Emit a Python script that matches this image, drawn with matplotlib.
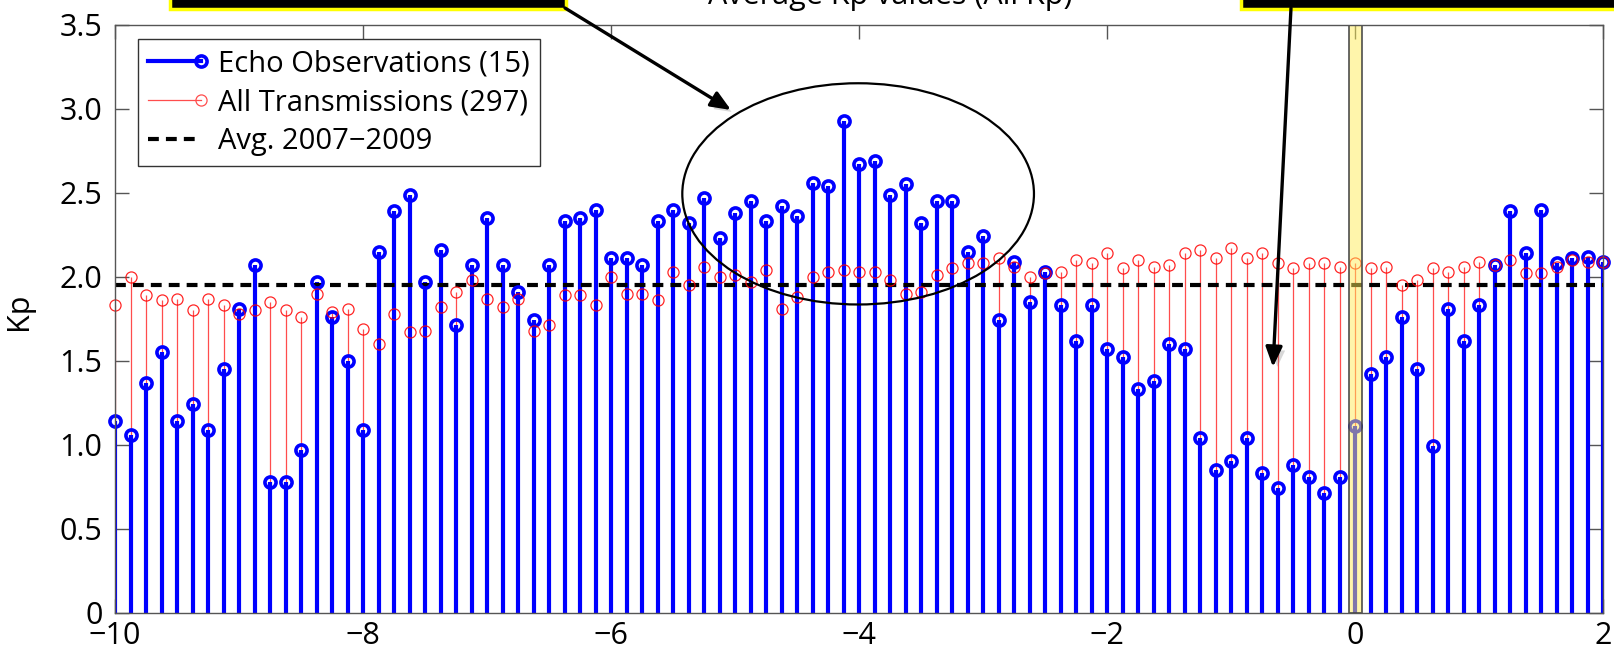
import numpy as np
import matplotlib
matplotlib.use("Agg")
import matplotlib.pyplot as plt
from matplotlib.lines import Line2D
from matplotlib.patches import Ellipse, Rectangle, FancyArrowPatch
from matplotlib.legend_handler import HandlerBase
from matplotlib.transforms import IdentityTransform
import matplotlib.patheffects as pe

plt.rcParams['font.family'] = ['Open Sans', 'DejaVu Sans']

# ---------------- data ----------------
days = np.arange(97) * 0.125 - 10.0   # 3-hour bins from -10 to +2 days

echo_kp = [1.14, 1.06, 1.37, 1.55, 1.14, 1.24, 1.09, 1.45, 1.81, 2.07,
           0.78, 0.78, 0.97, 1.97, 1.76, 1.50, 1.09, 2.15, 2.39, 2.49,
           1.97, 2.16, 1.71, 2.07, 2.35, 2.07, 1.91, 1.74, 2.07, 2.33,
           2.35, 2.40, 2.11, 2.11, 2.07, 2.33, 2.40, 2.32, 2.47, 2.23,
           2.38, 2.45, 2.33, 2.42, 2.36, 2.56, 2.54, 2.93, 2.67, 2.69,
           2.49, 2.55, 2.32, 2.45, 2.45, 2.15, 2.24, 1.74, 2.09, 1.85,
           2.03, 1.83, 1.62, 1.83, 1.57, 1.52, 1.33, 1.38, 1.60, 1.57,
           1.04, 0.85, 0.90, 1.04, 0.83, 0.74, 0.88, 0.81, 0.71, 0.81,
           1.11, 1.42, 1.52, 1.76, 1.45, 0.99, 1.81, 1.62, 1.83, 2.07,
           2.39, 2.14, 2.40, 2.08, 2.11, 2.12, 2.09]

all_kp = [1.83, 2.00, 1.89, 1.86, 1.87, 1.80, 1.87, 1.83, 1.78, 1.80,
          1.85, 1.80, 1.76, 1.90, 1.79, 1.81, 1.69, 1.60, 1.78, 1.67,
          1.68, 1.82, 1.91, 1.98, 1.87, 1.82, 1.87, 1.68, 1.71, 1.89,
          1.89, 1.83, 2.00, 1.90, 1.90, 1.86, 2.03, 1.95, 2.06, 2.00,
          2.01, 1.97, 2.04, 1.81, 1.88, 2.00, 2.03, 2.04, 2.03, 2.03,
          1.98, 1.90, 1.91, 2.01, 2.05, 2.08, 2.08, 2.11, 2.06, 2.00,
          2.02, 2.03, 2.10, 2.08, 2.14, 2.05, 2.10, 2.06, 2.07, 2.14,
          2.16, 2.11, 2.17, 2.11, 2.14, 2.08, 2.05, 2.08, 2.08, 2.06,
          2.08, 2.05, 2.06, 1.95, 1.98, 2.05, 2.03, 2.06, 2.09, 2.07,
          2.10, 2.02, 2.02, 2.06, 2.10, 2.09, 2.09]

avg_kp = 1.95

labels = ['Echo Observations (15)', 'All Transmissions (297)', 'Avg. 2007\u22122009']
x_ticks = [-10, -8, -6, -4, -2, 0, 2]
x_ticklabels = ['\u221210', '\u22128', '\u22126', '\u22124', '\u22122', '0', '2']
y_ticks = [0, 0.5, 1.0, 1.5, 2.0, 2.5, 3.0, 3.5]
y_ticklabels = ['0', '0.5', '1.0', '1.5', '2.0', '2.5', '3.0', '3.5']
title = 'Average Kp values (All Kp)'

# ---------------- figure ----------------
W, H = 1614, 648
fig = plt.figure(figsize=(W / 100, H / 100), dpi=100)
L, R, T, B = 115, 1603, 25, 612.5
ax = fig.add_axes([L / W, (H - B) / H, (R - L) / W, (B - T) / H])

FS = 22
LFS = 21
blue = '#0000ff'
red = '#ff0000'
BMS, BMEW = 8.0, 2.6

ax.vlines(days, 0, all_kp, colors='#ff4d4d', lw=0.9, zorder=2)
ax.vlines(days, 0, echo_kp, colors=blue, lw=3.0, zorder=3)
ax.axhline(avg_kp, color='black', lw=3.0, ls=(0, (2.6, 1.7)), zorder=3.5)
ax.plot(days, echo_kp, 'o', mfc='none', mec=blue, ms=BMS, mew=BMEW,
        zorder=4, clip_on=False)
ax.plot(days, all_kp, 'o', mfc='none', mec=red, ms=8.0, mew=0.9,
        zorder=5, clip_on=False, alpha=0.85)

ax.axvspan(-0.05, 0.06, facecolor=(1, 0.93, 0.35, 0.5),
           edgecolor=(0.25, 0.25, 0.25, 0.85), lw=1.3, zorder=6)

ax.add_patch(Ellipse((-4.007, 2.494), 2.836, 1.318, fill=False,
                     ec='black', lw=1.6, zorder=7))

ax.set_xlim(-10, 2)
ax.set_ylim(0, 3.5)
ax.set_xticks(x_ticks)
ax.set_xticklabels(x_ticklabels)
ax.set_yticks(y_ticks)
ax.set_yticklabels(y_ticklabels)
ax.tick_params(direction='in', length=10, width=1, color='#555555',
               top=True, right=True, labelsize=FS)
ax.tick_params(axis='y', pad=9)
ax.tick_params(axis='x', pad=6)
for s in ax.spines.values():
    s.set_color('#555555')
    s.set_linewidth(1)
    s.set_zorder(8)

ax.set_ylabel('Kp', fontsize=FS)
ax.yaxis.set_label_coords((34 - L) / (R - L), 0.513)


class StemHandler(HandlerBase):
    def __init__(self, color, lw, ms, mew, alpha=1.0):
        super().__init__()
        self.c, self.lw, self.ms, self.mew, self.a = color, lw, ms, mew, alpha

    def create_artists(self, legend, orig_handle, xdescent, ydescent,
                       width, height, fontsize, trans):
        y = (height - ydescent) / 2.0
        x0, x1 = -xdescent, -xdescent + width
        ln = Line2D([x0, x1], [y, y], color=self.c, lw=self.lw, transform=trans)
        mk = Line2D([x1], [y], marker='o', mfc='none', mec=self.c,
                    ms=self.ms, mew=self.mew, ls='none', transform=trans,
                    alpha=self.a)
        return [ln, mk]


h_echo = Line2D([], [], color=blue)
h_all = Line2D([], [], color='#ff4d4d')
h_avg = Line2D([], [], color='black', lw=3.0, ls=(0, (2.6, 1.7)))
leg = ax.legend([h_echo, h_all, h_avg], labels, loc='upper left',
                bbox_to_anchor=((138 - L) / (R - L), (B - 39) / (B - T)),
                borderaxespad=0, fontsize=LFS, handlelength=1.8,
                handletextpad=0.6, borderpad=0.35, labelspacing=0.34,
                frameon=True, fancybox=False, framealpha=1,
                edgecolor='#333333',
                handler_map={h_echo: StemHandler(blue, 3.0, BMS, BMEW),
                             h_all: StemHandler('#ff4d4d', 0.9, 8.0, 0.9)})
leg.get_frame().set_linewidth(1.0)
leg.set_zorder(9)

# clipped title and annotation boxes at the top
fig.text(890 / W, 1 - 4 / H, title, ha='center', va='baseline', fontsize=FS)
fig.add_artist(Rectangle((170 / W, 1 - 9 / H), 396 / W, 0.05,
                         transform=fig.transFigure, facecolor='black',
                         edgecolor='#ffff00', lw=2.5, clip_on=False))
fig.add_artist(Rectangle((1241 / W, 1 - 9 / H), 400 / W, 0.05,
                         transform=fig.transFigure, facecolor='black',
                         edgecolor='#ffff00', lw=2.5, clip_on=False))

shadow = [pe.SimplePatchShadow(offset=(3, -3), shadow_rgbFace='gray', alpha=0.3),
          pe.Normal()]
for (xa, ya), (xb, yb) in [((565, 8), (731, 110)), ((1291, 8), (1273, 367))]:
    arr = FancyArrowPatch((xa, H - ya), (xb, H - yb),
                          transform=IdentityTransform(),
                          arrowstyle='-|>,head_length=0.6,head_width=0.25',
                          mutation_scale=20, lw=2.4, color='black',
                          shrinkA=0, shrinkB=0, zorder=10)
    arr.set_path_effects(shadow)
    fig.add_artist(arr)

fig.savefig('out.png', dpi=100)
